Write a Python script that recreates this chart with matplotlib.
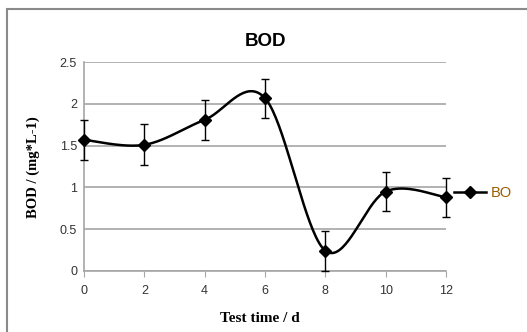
import numpy as np
import matplotlib.pyplot as plt
from matplotlib.patches import Rectangle
from matplotlib.lines import Line2D

# data
days = [0, 2, 4, 6, 8, 10, 12]
bod = [1.57, 1.51, 1.81, 2.07, 0.24, 0.95, 0.88]
err = [0.24, 0.245, 0.24, 0.235, 0.24, 0.235, 0.235]
yticks = [0, 0.5, 1, 1.5, 2, 2.5]
xticks = [0, 2, 4, 6, 8, 10, 12]


def smooth(x, y, n=40):
    # excel-like smoothed line: cubic bezier with catmull-rom control points
    x = np.asarray(x, float)
    y = np.asarray(y, float)
    px = np.concatenate([[x[0]], x, [x[-1]]])
    py = np.concatenate([[y[0]], y, [y[-1]]])
    xs, ys = [], []
    t = np.linspace(0, 1, n)
    for i in range(1, len(px) - 2):
        p0 = np.array([px[i], py[i]])
        p3 = np.array([px[i + 1], py[i + 1]])
        c1 = p0 + (np.array([px[i + 1], py[i + 1]]) - np.array([px[i - 1], py[i - 1]])) / 6
        c2 = p3 - (np.array([px[i + 2], py[i + 2]]) - np.array([px[i], py[i]])) / 6
        pts = ((1 - t) ** 3)[:, None] * p0 + (3 * (1 - t) ** 2 * t)[:, None] * c1 \
            + (3 * (1 - t) * t ** 2)[:, None] * c2 + (t ** 3)[:, None] * p3
        xs.extend(pts[:, 0])
        ys.extend(pts[:, 1])
    return xs, ys


fig = plt.figure(figsize=(5.27, 3.32), dpi=100)
fig.patch.set_facecolor('white')

# chart area border
fig.patches.append(Rectangle((7 / 527, -0.2), 1.2, 1 - 9 / 332 + 0.2, transform=fig.transFigure,
                             fill=False, edgecolor='#8a8a8a', linewidth=1.5))

ax = fig.add_axes([84 / 527, 1 - 270.7 / 332, 362 / 527, 208.4 / 332])

sx, sy = smooth(days, bod)
ax.plot(sx, sy, color='black', linewidth=1.8, zorder=3, clip_on=False)
eb = ax.errorbar(days, bod, yerr=err, fmt='none', ecolor='black', elinewidth=1,
                 capsize=3.2, capthick=1, zorder=3)
for art in eb.lines[1] + eb.lines[2]:
    art.set_clip_on(False)
ax.plot(days, bod, linestyle='none', marker='D', markersize=6.5, color='black', zorder=4,
        clip_on=False)

ax.set_xlim(0, 12)
ax.set_ylim(0, 2.5)
ax.set_xticks(xticks)
ax.set_yticks(yticks)
ax.set_yticklabels(['0', '0.5', '1', '1.5', '2', '2.5'])
ax.grid(axis='y', color='#a6a6a6', linewidth=1.2)
ax.set_axisbelow(True)
for s in ['top', 'right']:
    ax.spines[s].set_visible(False)
for s in ['left', 'bottom']:
    ax.spines[s].set_color('#a6a6a6')
    ax.spines[s].set_linewidth(1.2)
ax.tick_params(axis='x', direction='out', length=4, color='#a6a6a6', labelsize=9,
               labelcolor='#333333', pad=6)
ax.tick_params(axis='y', length=0, labelsize=9, labelcolor='#333333', pad=5)
for lab in ax.get_xticklabels() + ax.get_yticklabels():
    lab.set_family('Liberation Sans')

fig.text(266 / 527, 1 - 42 / 332, 'BOD', ha='center', va='center', fontsize=13.5,
         fontweight='bold', family='Liberation Sans')
fig.text(260 / 527, 1 - 319 / 332, 'Test time / d', ha='center', va='center', fontsize=11,
         fontweight='bold', family='Liberation Serif')
fig.text(33 / 527, 1 - 167 / 332, 'BOD / (mg*L-1)', ha='center', va='center', fontsize=10.5,
         fontweight='bold', family='Liberation Serif', rotation=90)

# legend
handle = Line2D([], [], color='black', linewidth=1.8, marker='D', markersize=6)
leg = fig.legend([handle], ['BO'], loc='center left', bbox_to_anchor=(448 / 527, 1 - 193 / 332),
                 frameon=False, handlelength=2.2, handletextpad=0.3, borderaxespad=0,
                 prop={'family': 'Liberation Sans', 'size': 10.5})
for t in leg.get_texts():
    t.set_color('#9a5c00')

fig.savefig('out.png', dpi=100)
